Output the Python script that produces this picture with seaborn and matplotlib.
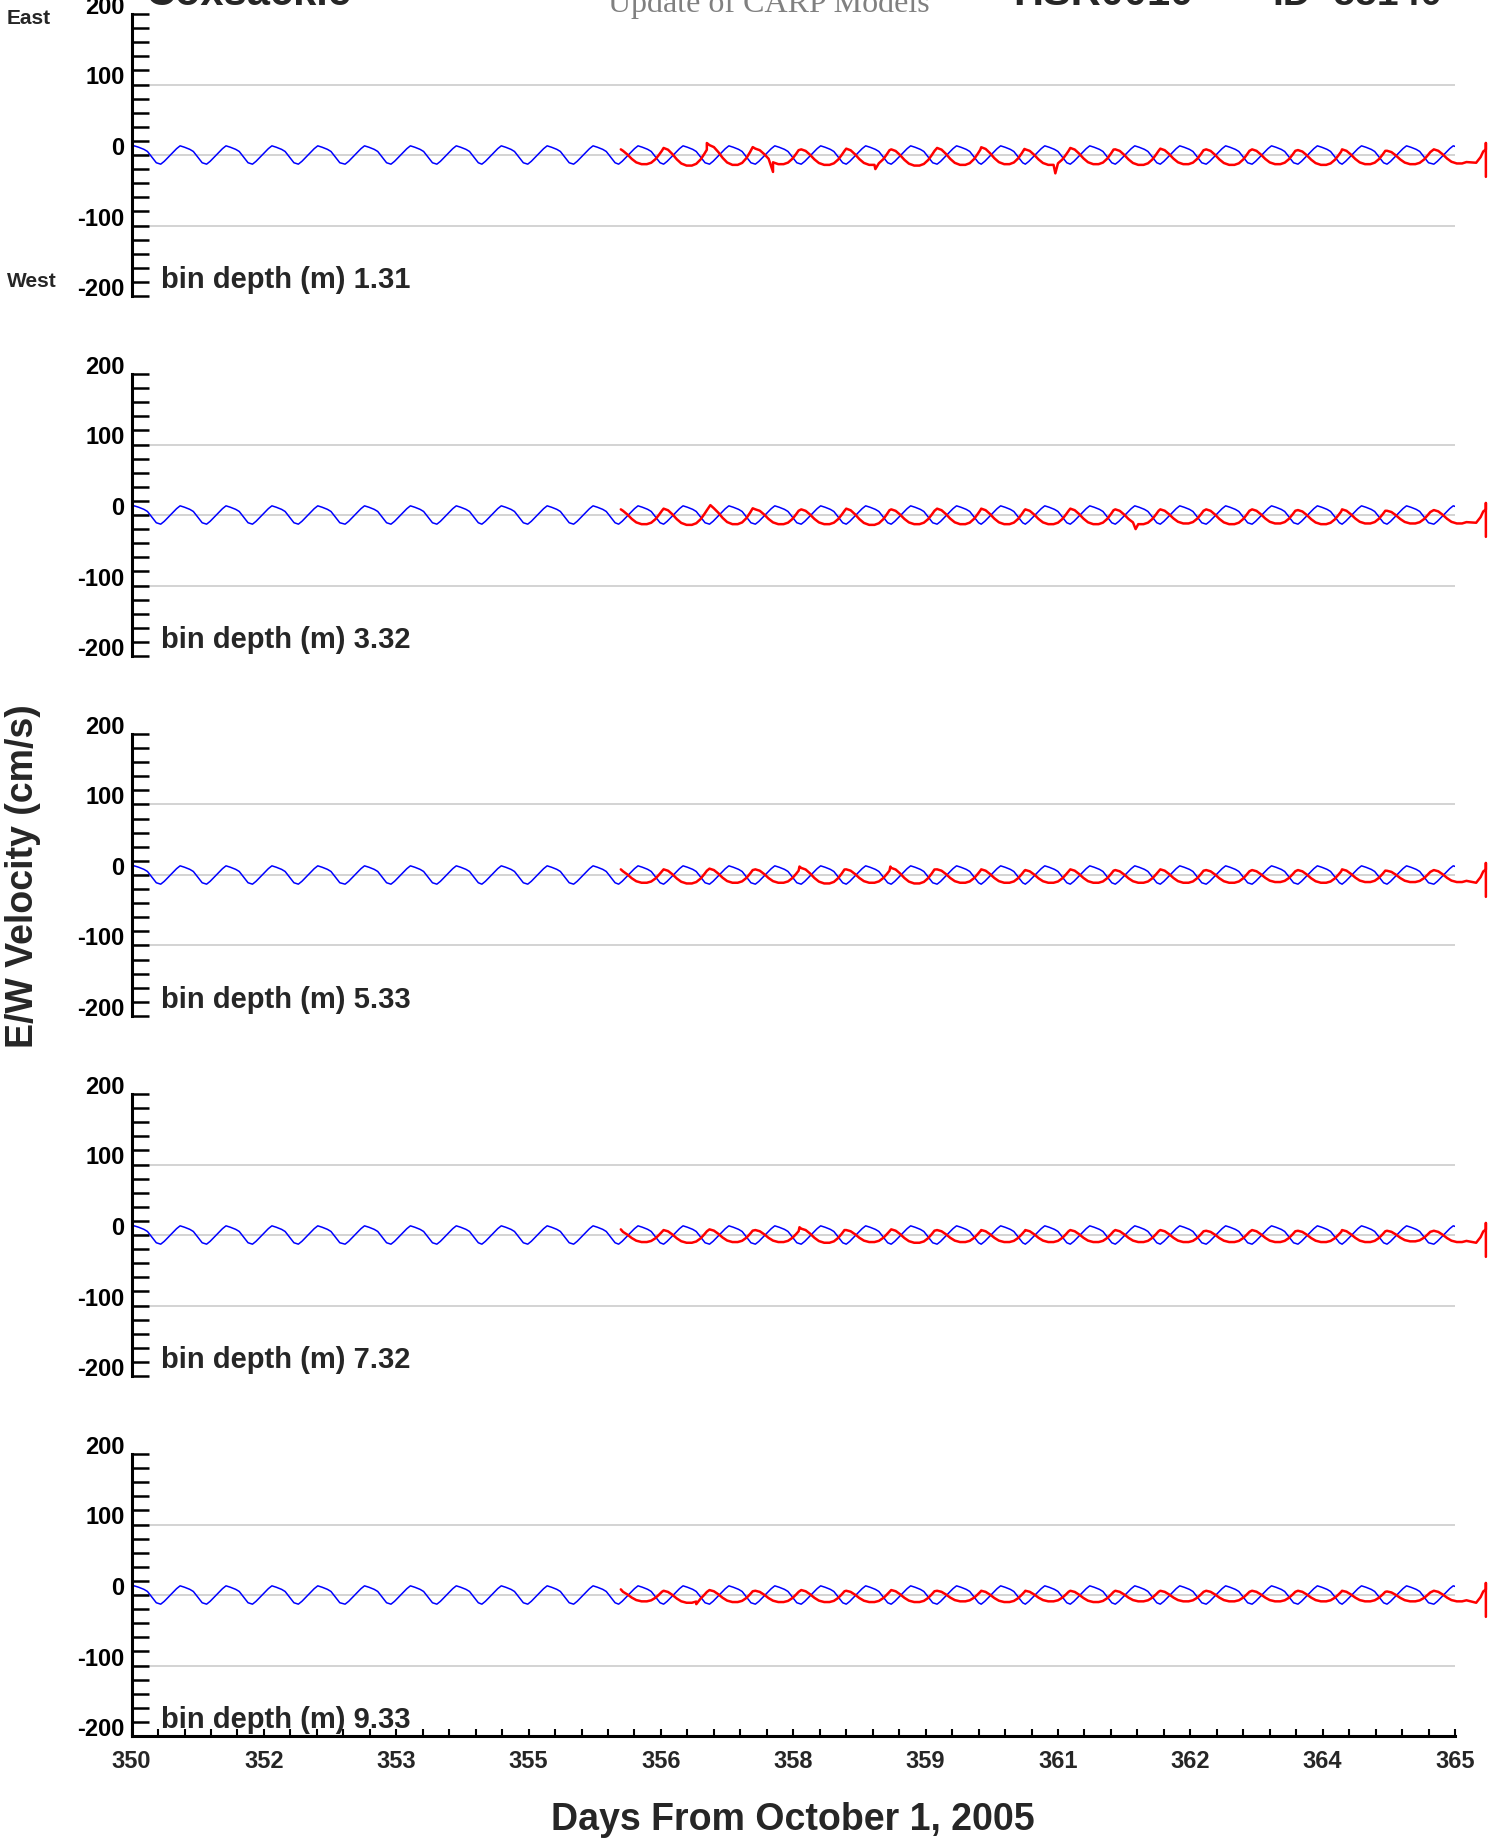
import numpy as np
import pandas as pd
import matplotlib
matplotlib.use("Agg")
import matplotlib.pyplot as plt
import seaborn as sns

# ---- data ----
depths = ["1.31", "3.32", "5.33", "7.32", "9.33"]

x_tick_labels = ["350", "352", "353", "355", "356", "358", "359", "361", "362", "364", "365"]

# blue (model) : times of each trough, and the shape of one tidal cycle after a trough
blue_troughs = [349.81, 350.33, 350.85, 351.37, 351.89, 352.42, 352.94, 353.46, 353.97,
                354.49, 355.01, 355.52, 356.03, 356.55, 357.07, 357.59, 358.10, 358.61,
                359.13, 359.63, 360.13, 360.64, 361.15, 361.66, 362.18, 362.70, 363.22,
                363.72, 364.23, 364.76]
blue_shape_off = [0.00, 0.04, 0.11, 0.18, 0.22, 0.27, 0.33, 0.37, 0.42, 0.47]
blue_shape_val = [-13, -9, 0, 9, 13, 11, 8, 5, -3, -11]

# red (observed) : one peak and one trough per tidal cycle, per bin
red_cycles = [355.52, 356.03, 356.55, 357.07, 357.59, 358.10, 358.61, 359.13, 359.63,
              360.13, 360.64, 361.15, 361.66, 362.18, 362.70, 363.22, 363.72, 364.23, 364.76]
red_shape_off = [0.00, 0.05, 0.10, 0.15, 0.20, 0.26, 0.32, 0.37, 0.42, 0.46, 0.49]
red_shape_frac = [1.0, 0.9, 0.65, 0.35, 0.12, 0.0, 0.0, 0.1, 0.35, 0.65, 0.9]
red_start = (355.545, 8)
red_end_t = [365.24, 365.29, 365.32, 365.35, 365.35, 365.35]
red_end_v = [-11, -3, 5, 8, 17, -31]

red_peaks = [
    [8, 10, 14, 9, 8, 9, 8, 10, 11, 8, 10, 8, 9, 8, 8, 7, 8, 6, 8],
    [8, 9, 12, 8, 8, 9, 8, 9, 9, 8, 9, 8, 8, 8, 8, 7, 8, 6, 7],
    [7, 8, 9, 8, 10, 8, 10, 8, 8, 7, 8, 7, 8, 7, 7, 7, 8, 6, 7],
    [6, 7, 8, 7, 9, 7, 8, 7, 7, 7, 7, 7, 7, 6, 7, 6, 7, 6, 6],
    [6, 6, 7, 6, 7, 6, 7, 6, 6, 6, 6, 6, 6, 6, 6, 6, 6, 5, 6],
]
red_troughs = [
    [-13, -15, -14, -13, -14, -14, -15, -14, -13, -14, -13, -14, -13, -14, -13, -14, -13, -13, -12],
    [-13, -14, -13, -13, -13, -14, -13, -13, -13, -13, -13, -13, -12, -13, -12, -13, -12, -12, -12],
    [-11, -12, -11, -11, -12, -11, -12, -11, -11, -11, -11, -11, -11, -11, -10, -11, -10, -10, -10],
    [-10, -11, -10, -10, -11, -10, -11, -10, -10, -10, -10, -10, -10, -10, -10, -10, -10, -9, -10],
    [-9, -11, -10, -10, -10, -10, -10, -9, -10, -9, -10, -9, -9, -9, -9, -9, -9, -9, -9],
]
red_spike_t = [[356.52, 357.27, 358.43, 360.47],
               [356.56, 361.38],
               [357.57, 358.60],
               [357.57],
               [356.40]]
red_spike_v = [[17, -24, -20, -26],
               [14, -20],
               [12, 12],
               [11],
               [-13]]


def build_blue():
    t, v = [], []
    for T in blue_troughs:
        for off, val in zip(blue_shape_off, blue_shape_val):
            t.append(T + off)
            v.append(val)
    return pd.DataFrame({"t": t, "v": v})


def build_red(i):
    t, v = [red_start[0]], [red_start[1]]
    last = len(red_cycles) - 1
    for k, (T, pk, tr) in enumerate(zip(red_cycles, red_peaks[i], red_troughs[i])):
        for off, fr in zip(red_shape_off, red_shape_frac):
            if T + off <= red_start[0]:
                continue
            if k == last and off > 0.37:
                continue
            t.append(T + off)
            v.append(tr + fr * (pk - tr))
    t += red_spike_t[i]
    v += red_spike_v[i]
    df = pd.DataFrame({"t": t, "v": v}).sort_values("t")
    end = pd.DataFrame({"t": red_end_t, "v": red_end_v})
    return pd.concat([df, end], ignore_index=True)


def main():
    sns.set_theme(style="white")
    plt.rcParams["font.family"] = ["Liberation Sans", "DejaVu Sans"]
    plt.rcParams["font.weight"] = "bold"

    W, H = 1495, 1843
    fig = plt.figure(figsize=(W / 100, H / 100), dpi=100)

    blue = build_blue()
    left, right = 131.6, 1455
    for i in range(5):
        top = 14 + 360 * i
        bot = 296 + 360 * i
        ax = fig.add_axes([left / W, 1 - bot / H, (right - left) / W, (bot - top) / H])
        ax.set_facecolor("none")
        for yy in [100, 0, -100]:
            ax.axhline(yy, color="#c8c8c8", lw=1.1, zorder=0)

        sns.lineplot(data=blue, x="t", y="v", ax=ax, color="#0000ff", lw=1.1,
                     sort=False, estimator=None, zorder=2)
        red = build_red(i)
        sns.lineplot(data=red, x="t", y="v", ax=ax, color="#ff0000", lw=1.8,
                     sort=False, estimator=None, zorder=3, clip_on=False)

        ax.set_xlim(350, 365)
        ax.set_ylim(-200, 200)
        ax.set_xlabel("")
        ax.set_ylabel("")

        ax.set_yticks([-200, -100, 0, 100, 200])
        ax.set_yticklabels(["-200", "-100", "0", "100", "200"])
        ax.set_yticks(np.arange(-200, 201, 20), minor=True)
        ax.tick_params(axis="y", which="both", direction="in", length=12, width=1.8,
                       left=True, labelsize=17, pad=5, color="black", labelcolor="black")
        for lab in ax.get_yticklabels():
            lab.set_verticalalignment("baseline")
            lab.set_fontweight("bold")

        for s in ["top", "right"]:
            ax.spines[s].set_visible(False)
        ax.spines["left"].set_linewidth(2.2)
        ax.spines["left"].set_color("black")

        if i < 4:
            ax.spines["bottom"].set_visible(False)
            ax.set_xticks([])
        else:
            ax.spines["bottom"].set_linewidth(2.2)
            ax.spines["bottom"].set_color("black")
            ax.set_xticks(np.linspace(350, 365, 11))
            ax.set_xticklabels(x_tick_labels)
            ax.set_xticks(np.linspace(350, 365, 51), minor=True)
            ax.tick_params(axis="x", which="both", direction="in", length=5, width=1.5,
                           bottom=True, labelsize=17, pad=10, color="black")
            for lab in ax.get_xticklabels():
                lab.set_fontweight("bold")

        ax.text(0.022, 0.028, "bin depth (m) " + depths[i], transform=ax.transAxes,
                fontsize=21, fontweight="bold", va="baseline", ha="left")

    # title row (cut off at the top edge, as in the reference)
    fig.text(145 / W, 1 - 5 / H, "Coxsackie", fontsize=30, fontweight="bold", va="baseline")
    fig.text(769 / W, 1 - 12 / H, "Update of CARP Models", fontsize=23, color="#808080",
             family=["Liberation Serif"], fontweight="normal", ha="center", va="baseline")
    fig.text(1013 / W, 1 - 5 / H, "HSR0010", fontsize=30, fontweight="bold", va="baseline")
    fig.text(1272 / W, 1 - 5 / H, "ID=55140", fontsize=28, fontweight="bold", va="baseline")

    fig.text(7 / W, 1 - 24 / H, "East", fontsize=15, fontweight="bold", va="baseline")
    fig.text(7 / W, 1 - 287 / H, "West", fontsize=15, fontweight="bold", va="baseline")

    fig.text(23 / W, 1 - 876 / H, "E/W Velocity (cm/s)", fontsize=27, fontweight="bold",
             rotation=90, ha="center", va="center")
    fig.text(793 / W, 1 - 1820 / H, "Days From October 1, 2005", fontsize=27,
             fontweight="bold", ha="center", va="center")

    fig.savefig("out.png", dpi=100, facecolor="white")


if __name__ == "__main__":
    main()
